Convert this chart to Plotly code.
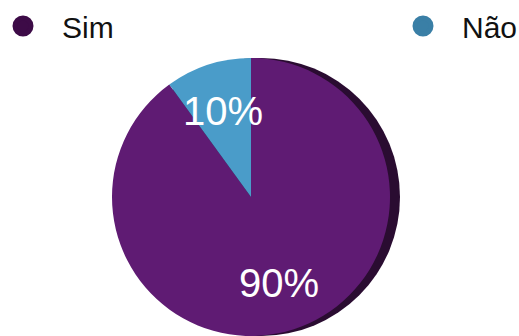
import math
import plotly.graph_objects as go

labels = ["Sim", "Não"]
values = [90, 10]
slice_colors = ["#5f1b73", "#4a9cc9"]
legend_colors = ["#3d0b47", "#3a7fa6"]

W, H = 519, 336
cx, cy, R = 251, 197, 139

fig = go.Figure()

# shadow disc (3D edge effect)
sh = 10
fig.add_trace(go.Pie(
    values=[1], labels=["shadow"], marker=dict(colors=["#2a0c31"], line=dict(width=0)),
    textinfo="none", hoverinfo="skip", showlegend=False, sort=False,
    domain=dict(x=[(cx - R + sh) / W, (cx + R + sh) / W], y=[1 - (cy + R) / H, 1 - (cy - R) / H]),
))

fig.add_trace(go.Pie(
    values=values, labels=labels, sort=False, direction="clockwise", rotation=0,
    marker=dict(colors=slice_colors, line=dict(width=0)),
    textinfo="none", showlegend=False,
    domain=dict(x=[(cx - R) / W, (cx + R) / W], y=[1 - (cy + R) / H, 1 - (cy - R) / H]),
))

# legend entries with circular markers
for i, (lab, col) in enumerate(zip(labels, legend_colors)):
    fig.add_trace(go.Scatter(
        x=[None], y=[None], mode="markers", name=lab,
        marker=dict(symbol="circle", size=16, color=col, line=dict(width=5, color=col)),
        legend="legend" if i == 0 else "legend2",
    ))

# percentage labels positioned from the data
total = sum(values)
cum = 0
for v in values:
    mid = (cum + v / 2) / total * 2 * math.pi
    cum += v
    px = cx + 0.65 * R * math.sin(mid)
    py = cy - 0.65 * R * math.cos(mid)
    fig.add_annotation(
        x=px / W, y=1 - py / H, xref="paper", yref="paper",
        xanchor="center", yanchor="middle",
        text=f"{v / total * 100:.0f}%", showarrow=False,
        font=dict(size=40, color="white", family="Liberation Sans, Arial, sans-serif"),
    )

legend_common = dict(
    orientation="h", yanchor="top", xanchor="left", itemwidth=68,
    font=dict(size=30, color="#111111", family="Liberation Sans, Arial, sans-serif"),
    bgcolor="rgba(0,0,0,0)", borderwidth=0, itemsizing="trace",
)
fig.update_layout(
    width=W, height=H,
    margin=dict(l=0, r=0, t=0, b=0, autoexpand=False),
    paper_bgcolor="white", plot_bgcolor="white",
    xaxis=dict(visible=False), yaxis=dict(visible=False),
    legend=dict(x=-16 / W, y=1.0, **legend_common),
    legend2=dict(x=384 / W, y=1.0, **legend_common),
    showlegend=True,
)

fig.write_html("out.html", config={"displayModeBar": False},
               post_script="document.body.style.margin='0px';")
